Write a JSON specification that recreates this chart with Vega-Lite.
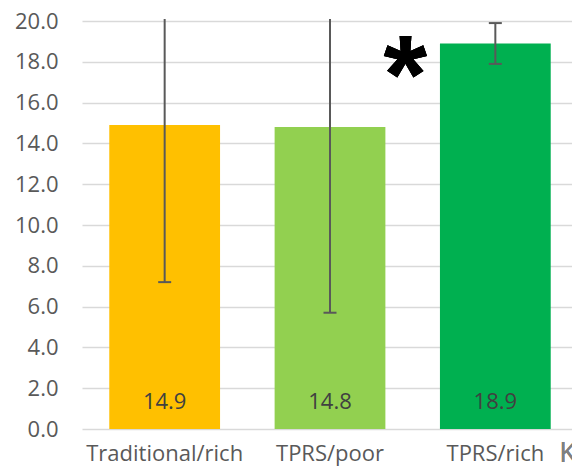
{
  "$schema": "https://vega.github.io/schema/vega-lite/v6.json",
  "width": 490,
  "height": 410,
  "autosize": {"type": "none"},
  "padding": {"left": 82, "top": 19, "right": 0, "bottom": 45},
  "background": "white",
  "config": {"view": {"stroke": null}, "font": "Open Sans"},
  "data": {
    "values": [
      {"group": "Traditional/rich", "mean": 14.9, "lo": 7.2, "hi": 22.6},
      {"group": "TPRS/poor", "mean": 14.8, "lo": 5.7, "hi": 23.9},
      {"group": "TPRS/rich", "mean": 18.9, "lo": 17.9, "hi": 19.9}
    ]
  },
  "encoding": {
    "x": {
      "field": "group",
      "type": "nominal",
      "sort": null,
      "scale": {"range": [0, 496], "paddingInner": 0.33, "paddingOuter": 0.165},
      "axis": {
        "title": null,
        "labelAngle": 0,
        "domain": false,
        "ticks": false,
        "grid": false,
        "labelFontSize": 22,
        "labelFont": "Open Sans",
        "labelColor": "#595959",
        "labelPadding": 14
      }
    }
  },
  "layer": [
    {
      "mark": {"type": "bar"},
      "encoding": {
        "y": {
          "field": "mean",
          "type": "quantitative",
          "scale": {"domain": [0, 20.1], "nice": false, "zero": true},
          "axis": {
            "title": null,
            "values": [0, 2, 4, 6, 8, 10, 12, 14, 16, 18, 20],
            "format": ".1f",
            "grid": true,
            "gridColor": "#D9D9D9",
            "gridWidth": 1.5,
            "domain": false,
            "ticks": false,
            "labelFontSize": 22,
            "labelFont": "Open Sans",
            "labelColor": "#595959",
            "labelPadding": 24
          }
        },
        "color": {
          "field": "group",
          "type": "nominal",
          "scale": {
            "domain": ["Traditional/rich", "TPRS/poor", "TPRS/rich"],
            "range": ["#FFC000", "#92D050", "#00B050"]
          },
          "legend": null
        }
      }
    },
    {
      "mark": {"type": "rule", "clip": true, "color": "#595959", "strokeWidth": 2},
      "encoding": {
        "y": {"field": "lo", "type": "quantitative"},
        "y2": {"field": "hi"}
      }
    },
    {
      "mark": {"type": "tick", "color": "#595959", "thickness": 2, "size": 13, "opacity": 1},
      "encoding": {"y": {"field": "lo", "type": "quantitative"}}
    },
    {
      "mark": {"type": "tick", "clip": true, "color": "#595959", "thickness": 2, "size": 13, "opacity": 1},
      "encoding": {"y": {"field": "hi", "type": "quantitative"}}
    },
    {
      "mark": {"type": "text", "dy": -27, "fontSize": 22, "font": "Open Sans", "color": "#404040", "baseline": "middle"},
      "encoding": {
        "y": {"datum": 0},
        "text": {"field": "mean", "type": "quantitative", "format": ".1f"}
      }
    },
    {
      "mark": {"type": "text", "text": "*", "fontSize": 112, "fontWeight": "bold", "font": "Liberation Sans", "color": "#000000", "dx": -90, "align": "center", "baseline": "alphabetic"},
      "encoding": {"x": {"datum": "TPRS/rich"}, "y": {"datum": 15.5}}
    },
    {
      "mark": {"type": "text", "text": "K", "fontSize": 28, "font": "Open Sans", "color": "#808080", "dx": 64, "dy": 33, "align": "left", "baseline": "alphabetic"},
      "encoding": {"x": {"datum": "TPRS/rich"}, "y": {"datum": 0}}
    }
  ]
}
